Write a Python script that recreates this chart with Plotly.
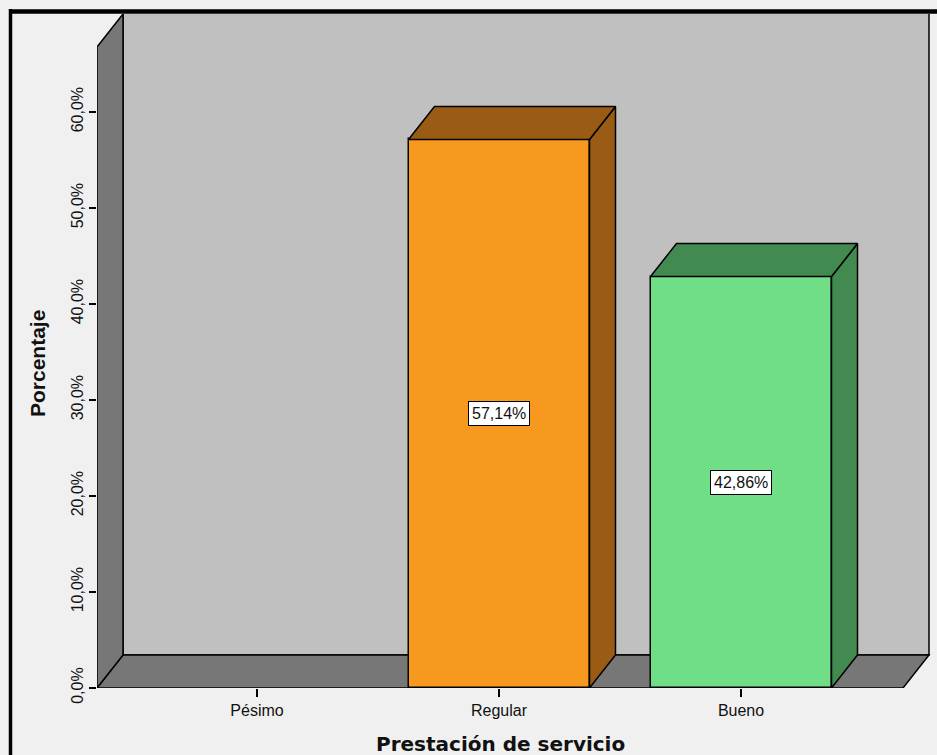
import plotly.graph_objects as go

# ---- data ----
categories = ["Pésimo", "Regular", "Bueno"]
percentages = [0.0, 57.14, 42.86]
y_tick_values = [0, 10, 20, 30, 40, 50, 60]
y_tick_labels = ["0,0%", "10,0%", "20,0%", "30,0%", "40,0%", "50,0%", "60,0%"]
x_title = "Prestación de servicio"
y_title = "Porcentaje"

front_colors = ["#7f7f7f", "#f7991f", "#70dd87"]
dark_colors = ["#555555", "#9a5c14", "#428a50"]

# ---- geometry (pixel layout of the figure) ----
W, H = 937, 755
L, R, T, B = 97, 6, 14, 67
pw, ph = W - L - R, H - T - B
px_per_cat = 242.0
px_per_pct = 9.6
cat0_px = 257.0
x_lo = -(cat0_px - L) / px_per_cat
x_hi = (W - R - cat0_px) / px_per_cat
y_hi = ph / px_per_pct
dx = 26 / px_per_cat
dy = 33 / px_per_pct
floor_right = (903 - cat0_px) / px_per_cat
back_right = (929 - cat0_px) / px_per_cat
bar_w = 181 / px_per_cat

WALL = "#777777"
BACK = "#c0c0c0"
EDGE = "black"
FONT = "Liberation Sans, Arial, sans-serif"
TITLE_FONT_X = "DejaVu Sans, Verdana, sans-serif"

fig = go.Figure()

xs = list(range(len(categories)))

# front faces of bars (zero-height bars get no outline)
fig.add_trace(go.Bar(
    x=xs, y=[v if v > 0 else None for v in percentages], width=bar_w,
    marker=dict(color=front_colors, line=dict(color=EDGE, width=1.5)),
    hoverinfo="skip", showlegend=False,
))

# side and top faces
for i, v in enumerate(percentages):
    if v <= 0:
        continue
    x0, x1 = i - bar_w / 2, i + bar_w / 2
    fig.add_trace(go.Scatter(
        x=[x1, x1 + dx, x1 + dx, x1, x1], y=[0, dy, v + dy, v, 0],
        fill="toself", fillcolor=dark_colors[i], mode="lines",
        line=dict(color=EDGE, width=1.5), hoverinfo="skip", showlegend=False))
    fig.add_trace(go.Scatter(
        x=[x0, x1, x1 + dx, x0 + dx, x0], y=[v, v, v + dy, v + dy, v],
        fill="toself", fillcolor=dark_colors[i], mode="lines",
        line=dict(color=EDGE, width=1.5), hoverinfo="skip", showlegend=False))

shapes = []
# back wall
shapes.append(dict(type="rect", xref="x", yref="y", layer="below",
                   x0=x_lo + dx, x1=back_right, y0=dy, y1=y_hi + 2,
                   fillcolor=BACK, line=dict(color=EDGE, width=1.5)))
# floor
shapes.append(dict(type="path", xref="x", yref="y", layer="below",
                   path=f"M {x_lo},0 L {floor_right},0 L {back_right},{dy} L {x_lo+dx},{dy} Z",
                   fillcolor=WALL, line=dict(color=EDGE, width=1.5)))
# left wall
shapes.append(dict(type="path", xref="x", yref="y", layer="below",
                   path=f"M {x_lo},0 L {x_lo+dx},{dy} L {x_lo+dx},{y_hi} L {x_lo},{y_hi-dy} Z",
                   fillcolor=WALL, line=dict(color=EDGE, width=1.5)))

# outer frame (pixel -> paper)
def px_x(p):
    return (p - L) / pw

def px_y(p):
    return (H - B - p) / ph

shapes.append(dict(type="line", xref="paper", yref="paper",
                   x0=px_x(10.5), x1=px_x(10.5), y0=px_y(9), y1=px_y(760),
                   line=dict(color="black", width=3.5)))
shapes.append(dict(type="line", xref="paper", yref="paper",
                   x0=px_x(9), x1=px_x(940), y0=px_y(11.5), y1=px_y(11.5),
                   line=dict(color="black", width=4.5)))

annotations = []
for i, v in enumerate(percentages):
    if v <= 0:
        continue
    annotations.append(dict(
        x=i, y=v / 2, xref="x", yref="y",
        text=f"{v:.2f}".replace(".", ",") + "%",
        showarrow=False, bgcolor="white", bordercolor="black", borderwidth=1,
        borderpad=3, font=dict(family=FONT, size=16, color="#111")))

annotations.append(dict(
    x=px_x(500), y=px_y(744), xref="paper", yref="paper",
    text=f"<b>{x_title}</b>", showarrow=False,
    font=dict(family=TITLE_FONT_X, size=20, color="#111"), xanchor="center", yanchor="middle"))
annotations.append(dict(
    x=px_x(37), y=px_y(364), xref="paper", yref="paper",
    text=f"<b>{y_title}</b>", showarrow=False, textangle=-90,
    font=dict(family=FONT, size=21, color="#111"), xanchor="center", yanchor="middle"))

fig.update_layout(
    width=W, height=H,
    margin=dict(l=L, r=R, t=T, b=B),
    paper_bgcolor="#f0f0f0", plot_bgcolor="#f0f0f0",
    shapes=shapes, annotations=annotations,
    bargap=0,
    xaxis=dict(range=[x_lo, x_hi], tickvals=xs, ticktext=categories,
               showgrid=False, zeroline=False, showline=False,
               ticks="outside", ticklen=8, tickwidth=1.5, tickcolor="black",
               tickfont=dict(family=FONT, size=16, color="#111"), fixedrange=True),
    yaxis=dict(range=[0, y_hi], tickvals=y_tick_values, ticktext=y_tick_labels,
               showgrid=False, zeroline=False, showline=False,
               ticks="outside", ticklen=7, tickwidth=1.5, tickcolor="black",
               tickangle=-90,
               tickfont=dict(family=FONT, size=16, color="#111"), fixedrange=True),
)

fig.write_html("out.html")
